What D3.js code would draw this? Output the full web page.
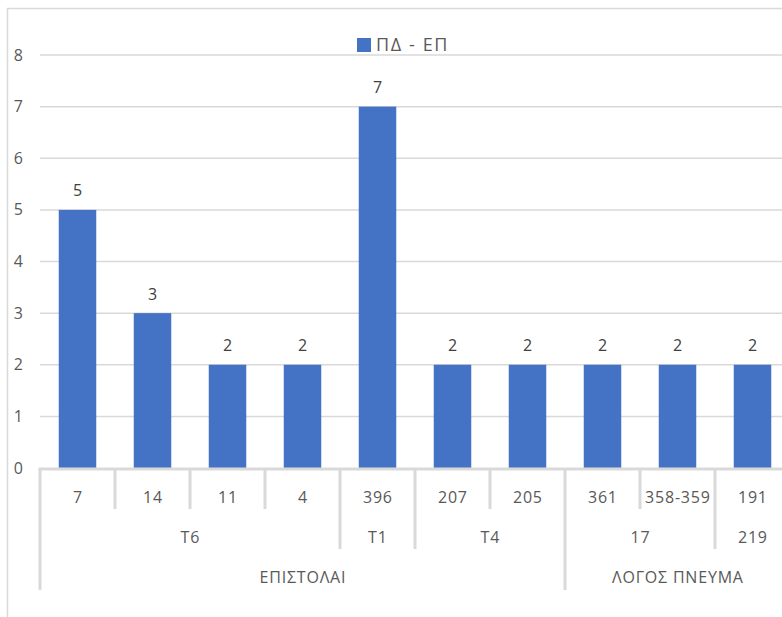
<!DOCTYPE html>
<html><head><meta charset="utf-8">
<script src="https://cdn.jsdelivr.net/npm/d3@7"></script>
<style>body{margin:0;background:#fff}svg{display:block}text{font-family:"Open Sans",sans-serif}</style>
</head><body><svg id="c" width="782" height="617"></svg>
<script>
const categories = ["7","14","11","4","396","207","205","361","358-359","191"];
const values = [5,3,2,2,7,2,2,2,2,2];
const level2 = [{label:"T6",span:4},{label:"T1",span:1},{label:"T4",span:2},{label:"17",span:2},{label:"219",span:1}];
const level3 = [{label:"ΕΠΙΣΤΟΛΑΙ",span:7},{label:"ΛΟΓΟΣ ΠΝΕΥΜΑ",span:3}];
const yTicks = [0,1,2,3,4,5,6,7,8];
const seriesName = "ΠΔ - ΕΠ";

const svg = d3.select("#c");
const left = 40, right = 790, y0 = 468, yTop = 55;
const x = d3.scaleBand().domain(categories).range([left, right]).paddingInner(0.5).paddingOuter(0.25);
const y = d3.scaleLinear().domain([0, 8]).range([y0, yTop]);
const step = x.step();
const txt = "#595959", grid = "#d9d9d9", blue = "#4472c4";
const fs = 16, ls = 0.8;

svg.append("rect").attr("x",7.5).attr("y",8.5).attr("width",900).attr("height",700)
  .attr("fill","none").attr("stroke",grid).attr("stroke-width",1.5);

// gridlines
svg.append("g").selectAll("line").data(yTicks.filter(d=>d>0)).join("line")
  .attr("x1",left).attr("x2",right).attr("y1",d=>y(d)).attr("y2",d=>y(d))
  .attr("stroke",grid).attr("stroke-width",1.5);
svg.append("g").selectAll("text").data(yTicks).join("text")
  .attr("x",23).attr("y",d=>y(d)).attr("dy","0.35em").attr("text-anchor","end")
  .attr("fill",txt).attr("font-size",fs).text(d=>d);

// bars
svg.append("g").selectAll("rect").data(values).join("rect")
  .attr("x",(d,i)=>x(categories[i])).attr("width",x.bandwidth())
  .attr("y",d=>y(d)).attr("height",d=>y0-y(d)).attr("fill",blue);
svg.append("g").selectAll("text").data(values).join("text")
  .attr("x",(d,i)=>x(categories[i])+x.bandwidth()/2).attr("y",d=>y(d)-19)
  .attr("dy","0.35em").attr("text-anchor","middle").attr("fill","#404040").attr("font-size",fs).text(d=>d);

// baseline
svg.append("line").attr("x1",left-1.5).attr("x2",right).attr("y1",y0+1).attr("y2",y0+1)
  .attr("stroke",grid).attr("stroke-width",3);

const tickTop = y0 + 1;
const b3 = [0]; level3.reduce((a,g)=>{a+=g.span;b3.push(a);return a;},0);
const b2 = [0]; level2.reduce((a,g)=>{a+=g.span;b2.push(a);return a;},0);
const bottoms = [];
for (let i = 0; i < categories.length; i++) {
  let bot = 509;
  if (b2.includes(i)) bot = 549;
  if (b3.includes(i)) bot = 590;
  bottoms.push({i, bot});
}
svg.append("g").selectAll("line").data(bottoms).join("line")
  .attr("x1",d=>left+d.i*step).attr("x2",d=>left+d.i*step)
  .attr("y1",tickTop).attr("y2",d=>d.bot).attr("stroke",grid).attr("stroke-width",3);

function lbl(sel){ return sel.attr("text-anchor","middle").attr("fill",txt).attr("font-size",fs)
  .attr("letter-spacing",ls).attr("dy","0.35em"); }
lbl(svg.append("g").selectAll("text").data(categories).join("text")
  .attr("x",d=>x(d)+x.bandwidth()/2+ls/2).attr("y",497)).text(d=>d);
lbl(svg.append("g").selectAll("text").data(level2).join("text")
  .attr("x",(d,i)=>left+(b2[i]+d.span/2)*step+ls/2).attr("y",537)).text(d=>d.label);
lbl(svg.append("g").selectAll("text").data(level3).join("text")
  .attr("x",(d,i)=>left+(b3[i]+d.span/2)*step+ls/2).attr("y",577)).text(d=>d.label);

// legend
svg.append("rect").attr("x",357).attr("y",38).attr("width",14).attr("height",14).attr("fill",blue);
svg.append("text").attr("x",376).attr("y",45).attr("dy","0.35em").attr("fill",txt)
  .attr("font-size",18).attr("letter-spacing",1.6).text(seriesName);
</script></body></html>
